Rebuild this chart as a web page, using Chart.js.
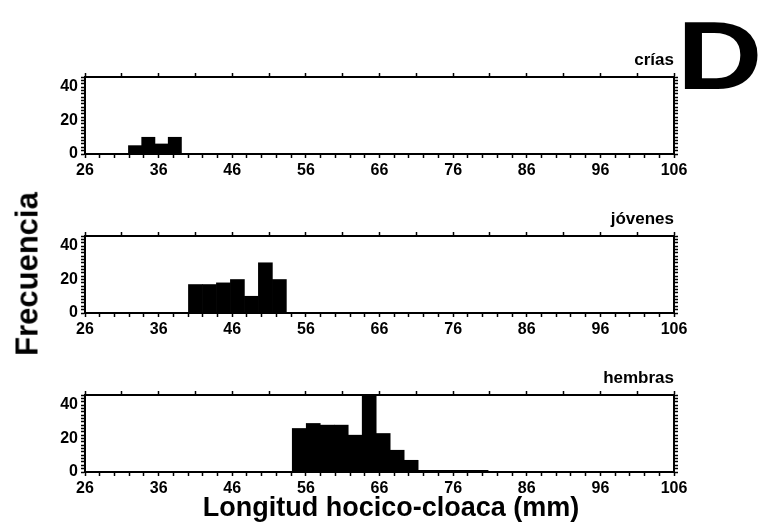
<!DOCTYPE html>
<html>
<head>
<meta charset="utf-8">
<title>Frecuencia por longitud hocico-cloaca</title>
<script src="https://cdn.jsdelivr.net/npm/chart.js@4.4.1/dist/chart.umd.min.js"></script>
<style>
  body { margin: 0; background: #fff; }
  #page { position: relative; width: 766px; height: 525px; overflow: hidden; font-family: "Liberation Sans", Arial, sans-serif; }
  .panel { position: absolute; left: 0; }
  .lbl { position: absolute; font-weight: bold; color: #000; white-space: nowrap; line-height: 1; }
  #letter { left: 677px; top: 7px; font-size: 97px; transform: scaleX(1.22); transform-origin: left top; }
  #ytitle { left: 27px; top: 274px; font-size: 31px; transform: translate(-50%, -50%) rotate(-90deg); }
  #xtitle { left: 391px; top: 507px; font-size: 27px; transform: translate(-50%, -50%); }
</style>
</head>
<body>
<div id="page">
  <canvas id="crias" class="panel" width="766" height="134"></canvas>
  <canvas id="jovenes" class="panel" width="766" height="134"></canvas>
  <canvas id="hembras" class="panel" width="766" height="134"></canvas>
  <div id="letter" class="lbl">D</div>
  <div id="ytitle" class="lbl">Frecuencia</div>
  <div id="xtitle" class="lbl">Longitud hocico-cloaca (mm)</div>
</div>
<script>
// tick labels shared by the three histograms
const xTickLabels = [26, 36, 46, 56, 66, 76, 86, 96, 106];
const yTickLabels = [0, 20, 40];

// histogram bins: first bin edge, bin width (mm) and counts per bin
const criasStart = 31.9;
const criasWidth = 1.8;
const criasCounts = [5, 10, 6, 10];

const jovenesStart = 40.05;
const jovenesWidth = 1.9;
const jovenesCounts = [17, 17, 18, 20, 10, 30, 20];

const hembrasStart = 54.15;
const hembrasWidth = 1.9;
const hembrasCounts = [26, 29, 28, 28, 22, 50, 23, 13, 7, 1, 1, 1, 1, 1];

const panelTops = [77, 236, 395];   // top edge of each plot frame
const xMin = 26, xMax = 106, yMax = 46;

const tickFont = { family: '"Liberation Sans", Arial, sans-serif', size: 16, weight: 'bold' };
const titleFont = { family: '"Liberation Sans", Arial, sans-serif', size: 17, weight: 'bold' };

function binPoints(start, width, counts) {
  return counts.map((c, i) => ({ x: start + width * (i + 0.5), y: c }));
}

function tickGrid() {
  return { offset: false, drawOnChartArea: false, drawTicks: true, tickLength: 4, tickColor: '#000', tickWidth: 1.5 };
}

function frame() {
  return { display: true, color: '#000', width: 2 };
}

function everyN(from, to, step) {
  const out = [];
  for (let v = from; v <= to + 1e-9; v += step) out.push({ value: v });
  return out;
}

function histogram(id, title, start, width, counts, top) {
  const canvas = document.getElementById(id);
  canvas.style.top = (top - 29) + 'px';

  return new Chart(canvas, {
    type: 'bar',
    data: {
      datasets: [{
        data: binPoints(start, width, counts),
        backgroundColor: '#000',
        borderWidth: 0,
        categoryPercentage: 1,
        barPercentage: 1
      }]
    },
    options: {
      responsive: false,
      animation: false,
      layout: { padding: 0 },
      plugins: {
        legend: { display: false },
        tooltip: { enabled: false },
        title: {
          display: true,
          text: title,
          align: 'end',
          fullSize: false,
          color: '#000',
          font: titleFont,
          padding: { top: 2.6, bottom: 0 }
        }
      },
      scales: {
        x: {
          type: 'linear', position: 'bottom', min: xMin, max: xMax, offset: false,
          afterBuildTicks: s => { s.ticks = everyN(xMin, xMax, 2); },
          ticks: {
            autoSkip: false, maxRotation: 0, padding: 3, color: '#000', font: tickFont,
            callback: v => xTickLabels.includes(v) ? String(v) : ''
          },
          grid: tickGrid(),
          border: frame(),
          afterFit: s => { s.height = 28; }
        },
        xTop: {
          type: 'linear', position: 'top', min: xMin, max: xMax, offset: false,
          afterBuildTicks: s => { s.ticks = everyN(xMin, xMax, 5); },
          ticks: { display: false },
          grid: tickGrid(),
          border: frame(),
          afterFit: s => { s.height = 6; }
        },
        y: {
          type: 'linear', position: 'left', min: 0, max: yMax,
          afterBuildTicks: s => { s.ticks = everyN(0, yMax, 2); },
          ticks: {
            autoSkip: false, padding: 3, color: '#000', font: tickFont,
            callback: v => yTickLabels.includes(v) ? String(v) : ''
          },
          grid: tickGrid(),
          border: frame(),
          afterFit: s => { s.width = 85; }
        },
        yRight: {
          type: 'linear', position: 'right', min: 0, max: yMax,
          afterBuildTicks: s => { s.ticks = everyN(0, yMax, 2); },
          ticks: { display: false },
          grid: tickGrid(),
          border: frame(),
          afterFit: s => { s.width = 92; }
        }
      }
    }
  });
}

histogram('crias', 'crías', criasStart, criasWidth, criasCounts, panelTops[0]);
histogram('jovenes', 'jóvenes', jovenesStart, jovenesWidth, jovenesCounts, panelTops[1]);
histogram('hembras', 'hembras', hembrasStart, hembrasWidth, hembrasCounts, panelTops[2]);
</script>
</body>
</html>
